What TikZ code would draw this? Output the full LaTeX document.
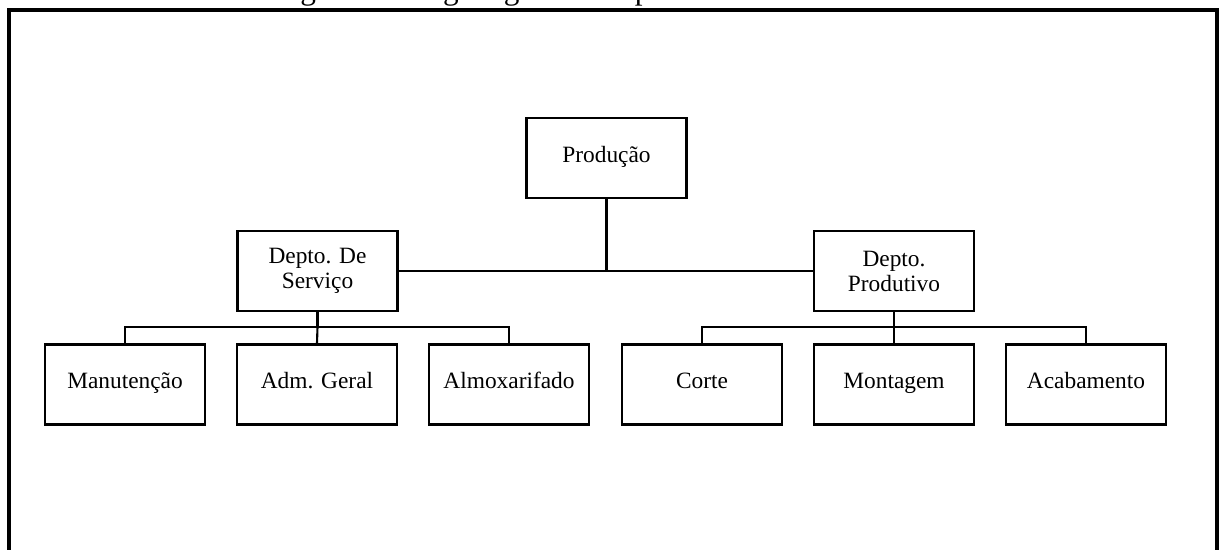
\documentclass[tikz,border=0pt]{standalone}
\usepackage{fontspec}
\setmainfont{Liberation Serif}
\usetikzlibrary{positioning}

\begin{document}
\begin{tikzpicture}[
    x=0.02cm, y=-0.02cm,
    unit/.style={draw, line width=1.5pt, rectangle, minimum height=1.6cm, minimum width=3.2cm, align=center, inner sep=2pt, font=\fontsize{13.3}{14.2}\selectfont},
    oneline/.style={unit, text height=0.7em, text depth=0.22em},
    link/.style={line width=1.2pt},
    frame/.style={line width=2.3pt}
]
\useasboundingbox (0,0) rectangle (1222,549);

% Caption (cut off at the top)
\node[anchor=base, inner sep=0pt, font=\fontsize{17.8}{20}\selectfont] (titulo) at (607,-0.5) {Figura 3 -- Organograma simplificado de uma fábrica};

% Outer frame
\draw[frame] (9,600) -- (9,10) -- (1217,10) -- (1217,600);

% Top
\node[oneline] (producao) at (606.5,158) {Produção};

% Departments
\node[unit] (servico) at (317.5,271) {Depto. De\\Serviço};
\node[unit] (produtivo) at (894,271) {Depto.\\Produtivo};

% Sections
\node[oneline] (manut) at (125,384.5) {Manutenção};
\node[oneline] (adm) at (317,384.5) {Adm. Geral};
\node[oneline] (almox) at (509,384.5) {Almoxarifado};
\node[oneline] (corte) at (702,384.5) {Corte};
\node[oneline] (montagem) at (894,384.5) {Montagem};
\node[oneline] (acab) at (1086,384.5) {Acabamento};

% Connections
\coordinate (sbus) at (317.5,327);
\coordinate (pbus) at (894,327);
\draw[link] (servico.east) -- (produtivo.west);
\draw[link] (producao.south) -- (producao.south |- servico.east);
\draw[link] (servico.south) -- (sbus);
\draw[link] (manut.north) |- (sbus) -| (almox.north);
\draw[link] (sbus) -- (adm.north);
\draw[link] (produtivo.south) -- (pbus);
\draw[link] (corte.north) |- (pbus) -| (acab.north);
\draw[link] (pbus) -- (montagem.north);

\end{tikzpicture}
\end{document}
